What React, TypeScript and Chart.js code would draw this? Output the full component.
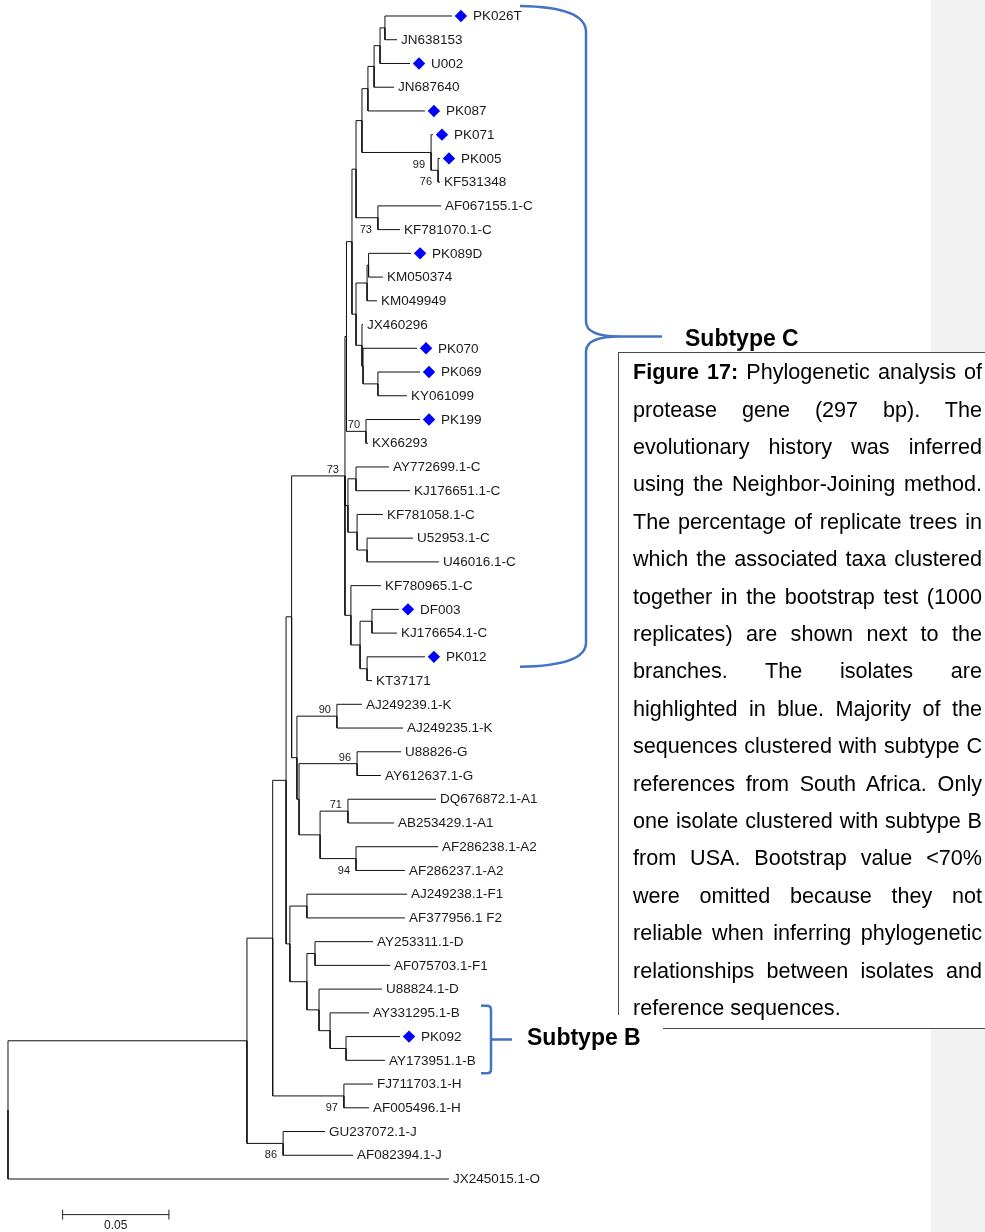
import React, { useEffect, useRef } from "react";
import { Chart, registerables } from "chart.js";

Chart.register(...registerables);

// ---------- DATA ----------
// internal nodes: name, parent, distance from root (substitutions/site)
const nodeNames = [
  "root", "nAR", "nBT", "nJ", "nH", "nBig", "nCK", "nFDB", "nF12", "nDB", "nDF", "nDB2", "nB", "nPK092",
  "nKGA", "nK", "nGA", "nG", "nAA", "nA1", "nA2",
  "C0", "nC2", "nUp", "n9", "n5", "n4", "n3", "n2", "n1", "n6", "n7", "nP",
  "nMid1", "nPK89", "nPKKM", "nJXall", "nJX2", "nPK069", "nPK199",
  "nAYKF", "nAY", "nKF", "nU", "nBot", "nDK", "nDFKJ", "nPK012",
];
const nodeParents = [
  "", "root", "nAR", "nAR", "nBT", "nBT", "nBig", "nBig", "nFDB", "nFDB", "nDB", "nDB", "nDB2", "nB",
  "nCK", "nKGA", "nKGA", "nGA", "nGA", "nAA", "nAA",
  "nCK", "C0", "nC2", "nUp", "n9", "n5", "n4", "n3", "n2", "n5", "n6", "n9",
  "nUp", "nMid1", "nPK89", "nMid1", "nJXall", "nJX2", "nC2",
  "C0", "nAYKF", "nAYKF", "nKF", "C0", "nBot", "nDK", "nDK",
];
const nodeDepths = [
  0, 0.1124, 0.1245, 0.1294, 0.158, 0.1308, 0.1334, 0.1326, 0.1406, 0.1406, 0.1444, 0.1463, 0.1515, 0.159,
  0.1359, 0.1547, 0.1369, 0.1642, 0.1468, 0.1599, 0.1637,
  0.1585, 0.1592, 0.1618, 0.1637, 0.1665, 0.1693, 0.1722, 0.175, 0.1773, 0.199, 0.2023, 0.174,
  0.1637, 0.1689, 0.1696, 0.1665, 0.167, 0.174, 0.1684,
  0.1599, 0.1637, 0.1642, 0.1689, 0.1613, 0.1656, 0.1712, 0.1689,
];

// taxa in display order (top to bottom)
const taxa = [
  "PK026T", "JN638153", "U002", "JN687640", "PK087", "PK071", "PK005", "KF531348", "AF067155.1-C", "KF781070.1-C",
  "PK089D", "KM050374", "KM049949", "JX460296", "PK070", "PK069", "KY061099", "PK199", "KX66293", "AY772699.1-C",
  "KJ176651.1-C", "KF781058.1-C", "U52953.1-C", "U46016.1-C", "KF780965.1-C", "DF003", "KJ176654.1-C", "PK012", "KT37171", "AJ249239.1-K",
  "AJ249235.1-K", "U88826-G", "AY612637.1-G", "DQ676872.1-A1", "AB253429.1-A1", "AF286238.1-A2", "AF286237.1-A2", "AJ249238.1-F1", "AF377956.1 F2", "AY253311.1-D",
  "AF075703.1-F1", "U88824.1-D", "AY331295.1-B", "PK092", "AY173951.1-B", "FJ711703.1-H", "AF005496.1-H", "GU237072.1-J", "AF082394.1-J", "JX245015.1-O",
];
const taxonParents = [
  "n1", "n1", "n2", "n3", "n4", "n6", "n7", "n7", "nP", "nP",
  "nPKKM", "nPKKM", "nPK89", "nJXall", "nJX2", "nPK069", "nPK069", "nPK199", "nPK199", "nAY",
  "nAY", "nKF", "nU", "nU", "nBot", "nDFKJ", "nDFKJ", "nPK012", "nPK012", "nK",
  "nK", "nG", "nG", "nA1", "nA1", "nA2", "nA2", "nF12", "nF12", "nDF",
  "nDF", "nDB2", "nB", "nPK092", "nPK092", "nH", "nH", "nJ", "nJ", "root",
];
const taxonDepths = [
  0.2088, 0.183, 0.1891, 0.1816, 0.1961, 0.1999, 0.2032, 0.2032, 0.2037, 0.1844,
  0.1896, 0.1764, 0.1736, 0.167, 0.1924, 0.1938, 0.1877, 0.1938, 0.1693, 0.1792,
  0.1891, 0.1764, 0.1905, 0.2027, 0.1754, 0.1839, 0.183, 0.1961, 0.1712, 0.1665,
  0.1858, 0.1849, 0.1754, 0.2013, 0.1816, 0.2023, 0.1867, 0.1877, 0.1867, 0.1717,
  0.1797, 0.1759, 0.1698, 0.1844, 0.1773, 0.1717, 0.1698, 0.1491, 0.1623, 0.2074,
];
const isolates = ["PK026T", "U002", "PK087", "PK071", "PK005", "PK089D", "PK070", "PK069", "PK199", "DF003", "PK012", "PK092"];

// bootstrap support (>=70%)
const bootstrapNodes = ["n6", "n7", "nP", "nPK199", "C0", "nK", "nG", "nA1", "nA2", "nH", "nJ"];
const bootstrapValues = [99, 76, 73, 70, 73, 90, 96, 71, 94, 97, 86];
const bootstrapBelow = [true, true, true, false, false, false, false, false, true, true, true];

const scaleBarLength = 0.05;
const scaleBarLabel = "0.05";

const subtypeCLabel = "Subtype C";
const subtypeBLabel = "Subtype B";
const subtypeCRows = [1, 28];
const subtypeBRows = [43, 45];

const captionTitle = "Figure 17:";
const captionLines = [
  " Phylogenetic analysis of",
  "protease gene (297 bp). The",
  "evolutionary history was inferred",
  "using the Neighbor-Joining method.",
  "The percentage of replicate trees in",
  "which the associated taxa clustered",
  "together in the bootstrap test (1000",
  "replicates) are shown next to the",
  "branches. The isolates are",
  "highlighted in blue. Majority of the",
  "sequences clustered with subtype C",
  "references from South Africa. Only",
  "one isolate clustered with subtype B",
  "from USA. Bootstrap value <70%",
  "were omitted because they not",
  "reliable when inferring phylogenetic",
  "relationships between isolates and",
  "reference sequences.",
];

// ---------- LAYOUT CONSTANTS ----------
const W = 985;
const H = 1232;
const X_MIN = -0.00376;
const X_MAX = 0.45955;
const Y_MIN = 0.3259;
const Y_MAX = 52.233;
const PX_PER_UNIT = W / (X_MAX - X_MIN);
const DIAMOND_GAP = 9;
const SCALE_BAR_START = 0.0257;
const LABEL_FONT = '13.5px "Liberation Sans", Arial, sans-serif';
const BOOT_FONT = '11px "Liberation Sans", Arial, sans-serif';
const BLUE = "#4472C4";

// ---------- TREE BUILD ----------
const parentOf: Record<string, string> = {};
const depthOf: Record<string, number> = {};
const childrenOf: Record<string, string[]> = {};
nodeNames.forEach((n, i) => {
  depthOf[n] = nodeDepths[i];
  const p = nodeParents[i];
  if (p) {
    parentOf[n] = p;
    (childrenOf[p] = childrenOf[p] || []).push(n);
  }
});
const yOf: Record<string, number> = {};
taxa.forEach((t, i) => {
  depthOf[t] = taxonDepths[i];
  parentOf[t] = taxonParents[i];
  yOf[t] = i + 1;
  (childrenOf[taxonParents[i]] = childrenOf[taxonParents[i]] || []).push(t);
});
function nodeY(n: string): number {
  if (yOf[n] !== undefined) return yOf[n];
  const ys = (childrenOf[n] || []).map(nodeY);
  const v = (Math.min(...ys) + Math.max(...ys)) / 2;
  yOf[n] = v;
  return v;
}
nodeY("root");

const branchPts: { x: number | null; y: number | null }[] = [];
[...nodeNames.filter((n) => parentOf[n]), ...taxa].forEach((c) => {
  const p = parentOf[c];
  branchPts.push(
    { x: depthOf[p], y: yOf[p] },
    { x: depthOf[p], y: yOf[c] },
    { x: depthOf[c], y: yOf[c] },
    { x: null, y: null }
  );
});

const diamondPts = taxa
  .map((t, i) => ({ t, i }))
  .filter(({ t }) => isolates.includes(t))
  .map(({ i }) => ({ x: taxonDepths[i] + DIAMOND_GAP / PX_PER_UNIT, y: i + 1 }));

const treeText = {
  id: "treeText",
  afterDatasetsDraw(chart: any) {
    const { ctx } = chart;
    const xs = chart.scales.x;
    const ys = chart.scales.y;
    ctx.save();
    // taxon labels
    ctx.font = LABEL_FONT;
    ctx.fillStyle = "#1a1a1a";
    ctx.textBaseline = "middle";
    ctx.textAlign = "left";
    taxa.forEach((t, i) => {
      const iso = isolates.includes(t);
      const px = xs.getPixelForValue(taxonDepths[i]) + (iso ? DIAMOND_GAP + 12 : 4);
      const py = ys.getPixelForValue(i + 1);
      ctx.fillText(t, px, py + 0.5);
    });
    // bootstrap values
    ctx.font = BOOT_FONT;
    ctx.textAlign = "right";
    bootstrapNodes.forEach((n, i) => {
      const px = xs.getPixelForValue(depthOf[n]) - 6;
      const py = ys.getPixelForValue(yOf[n]) + (bootstrapBelow[i] ? 12 : -6);
      ctx.fillText(String(bootstrapValues[i]), px, py);
    });
    // scale bar
    const sy = ys.getPixelForValue(taxa.length + 1.5);
    const sx0 = xs.getPixelForValue(SCALE_BAR_START);
    const sx1 = xs.getPixelForValue(SCALE_BAR_START + scaleBarLength);
    ctx.strokeStyle = "#222";
    ctx.lineWidth = 1;
    ctx.beginPath();
    ctx.moveTo(sx0, sy);
    ctx.lineTo(sx1, sy);
    ctx.moveTo(sx0, sy - 5);
    ctx.lineTo(sx0, sy + 5);
    ctx.moveTo(sx1, sy - 5);
    ctx.lineTo(sx1, sy + 5);
    ctx.stroke();
    ctx.font = '12px "Liberation Sans", Arial, sans-serif';
    ctx.textAlign = "center";
    ctx.textBaseline = "alphabetic";
    ctx.fillText(scaleBarLabel, (sx0 + sx1) / 2, sy + 14);

    // Subtype C brace
    ctx.strokeStyle = BLUE;
    ctx.lineWidth = 2.5;
    ctx.lineJoin = "round";
    const cTop = ys.getPixelForValue(subtypeCRows[0]) - 10;
    const cBot = ys.getPixelForValue(subtypeCRows[1]) + 10;
    const cMid = (cTop + cBot) / 2;
    const bx0 = 520, bxv = 586, bxt = 620, bxe = 662;
    ctx.beginPath();
    ctx.moveTo(bx0, cTop);
    ctx.quadraticCurveTo(bxv, cTop + 1, bxv, cTop + 26);
    ctx.lineTo(bxv, cMid - 15);
    ctx.quadraticCurveTo(bxv, cMid, bxt, cMid);
    ctx.lineTo(bxe, cMid);
    ctx.moveTo(bxt, cMid);
    ctx.quadraticCurveTo(bxv, cMid, bxv, cMid + 15);
    ctx.lineTo(bxv, cBot - 24);
    ctx.quadraticCurveTo(bxv, cBot - 1, bx0, cBot);
    ctx.stroke();

    // Subtype B bracket
    const bTop = ys.getPixelForValue(subtypeBRows[0]) - 7;
    const bBot = ys.getPixelForValue(subtypeBRows[1]) + 13;
    const bMid = (bTop + bBot) / 2;
    const qx0 = 481, qxv = 491, qxe = 512;
    ctx.beginPath();
    ctx.moveTo(qx0, bTop);
    ctx.lineTo(qxv - 4, bTop);
    ctx.quadraticCurveTo(qxv, bTop, qxv, bTop + 4);
    ctx.lineTo(qxv, bBot - 4);
    ctx.quadraticCurveTo(qxv, bBot, qxv - 4, bBot);
    ctx.lineTo(qx0, bBot);
    ctx.moveTo(qxv, bMid);
    ctx.lineTo(qxe, bMid);
    ctx.stroke();

    // subtype labels
    ctx.fillStyle = "#000";
    ctx.font = 'bold 23px "Liberation Sans", Arial, sans-serif';
    ctx.textAlign = "left";
    ctx.textBaseline = "alphabetic";
    ctx.fillText(subtypeCLabel, 685, cMid + 9.5);
    ctx.fillText(subtypeBLabel, 527, bMid + 5.5);
    ctx.restore();
  },
};

export default function App() {
  const ref = useRef<HTMLCanvasElement>(null);
  useEffect(() => {
    if (!ref.current) return;
    const chart = new Chart(ref.current, {
      type: "scatter",
      data: {
        datasets: [
          {
            data: branchPts as any,
            showLine: true,
            spanGaps: false,
            borderColor: "#111",
            borderWidth: 1,
            pointRadius: 0,
            tension: 0,
            borderJoinStyle: "miter",
            clip: false,
          } as any,
          {
            data: diamondPts,
            showLine: false,
            pointStyle: "rectRot",
            pointRadius: 6.2,
            backgroundColor: "#0000ff",
            borderColor: "#0000ff",
            borderWidth: 0,
            clip: false,
          } as any,
        ],
      },
      options: {
        animation: false,
        responsive: false,
        events: [],
        layout: { padding: 0, autoPadding: false },
        plugins: { legend: { display: false }, tooltip: { enabled: false } },
        scales: {
          x: { type: "linear", display: false, min: X_MIN, max: X_MAX, bounds: "data" },
          y: { type: "linear", display: false, min: Y_MIN, max: Y_MAX, reverse: true, bounds: "data" },
        },
      } as any,
      plugins: [treeText],
    });
    return () => chart.destroy();
  }, []);

  const lineH = 37.4;
  return (
    <div style={{ position: "absolute", left: 0, top: 0, width: W, height: H, background: "#fff", overflow: "hidden" }}>
      <div style={{ position: "absolute", left: 931, top: 0, width: W - 931, height: 352, background: "#f2f2f2" }} />
      <div style={{ position: "absolute", left: 931, top: 1028, width: W - 931, height: H - 1028, background: "#f2f2f2" }} />
      <canvas ref={ref} width={W} height={H} style={{ position: "absolute", left: 0, top: 0, width: W, height: H }} />
      <div style={{ position: "absolute", left: 618, top: 352, width: W - 618, height: 1, background: "#4a4a4a" }} />
      <div style={{ position: "absolute", left: 618, top: 352, width: 1, height: 663, background: "#4a4a4a" }} />
      <div style={{ position: "absolute", left: 663, top: 1028, width: W - 663, height: 1, background: "#4a4a4a" }} />
      <div
        style={{
          position: "absolute",
          left: 633,
          top: 372 - lineH / 2,
          width: 349,
          font: '21.6px "Liberation Sans", Arial, sans-serif',
          lineHeight: lineH + "px",
          color: "#000",
        }}
      >
        {captionLines.map((line, i) => {
          const last = i === captionLines.length - 1;
          return (
            <div
              key={i}
              style={{
                height: lineH,
                textAlign: last ? "left" : "justify",
                textAlignLast: last ? "left" : "justify",
                whiteSpace: "normal",
              } as any}
            >
              {i === 0 ? <b>{captionTitle}</b> : null}
              {line}
            </div>
          );
        })}
      </div>
    </div>
  );
}
